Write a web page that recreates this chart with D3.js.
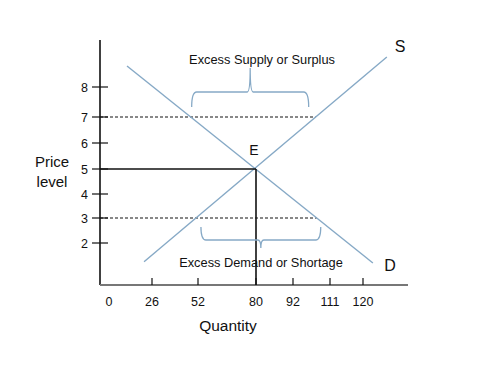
<!DOCTYPE html>
<html>
<head>
<meta charset="utf-8">
<script src="https://cdn.jsdelivr.net/npm/d3@7"></script>
<style>
  html, body { margin: 0; padding: 0; background: #fff; }
  svg { display: block; font-family: "Liberation Sans", Arial, sans-serif; }
</style>
</head>
<body>
<svg id="chart" width="487" height="374"></svg>
<script>
// ---- data ----
const priceTicks = [2, 3, 4, 5, 6, 7, 8];
const quantityTicks = [0, 26, 52, 80, 92, 111, 120];
const supplyLine = [{ q: 21.2, p: 1.25 }, { q: 126.5, p: 9.0 }];
const demandLine = [{ q: 10.9, p: 8.7 }, { q: 122.7, p: 1.2 }];
const equilibrium = { q: 80, p: 5, label: "E" };
const surplusPrice = 7;
const shortagePrice = 3;
const labels = {
  supply: "S", demand: "D",
  surplus: "Excess Supply or Surplus",
  shortage: "Excess Demand or Shortage",
  yTitle: ["Price", "level"], xTitle: "Quantity"
};

// ---- layout ----
const svg = d3.select("#chart");
const axisX0 = 100, axisY0 = 285, axisTop = 40, axisRight = 408;
const x = d3.scaleLinear().domain(quantityTicks).range([109, 152, 198, 256, 293, 330, 363]);
const y = d3.scaleLinear().domain(priceTicks).range([243, 218, 194, 169, 143, 117, 87]);
const curveColor = "#86a9c6";

// axes
svg.append("line").attr("x1", axisX0).attr("x2", axisX0).attr("y1", axisTop).attr("y2", axisY0)
  .attr("stroke", "#111").attr("stroke-width", 1.6);
svg.append("line").attr("x1", axisX0).attr("x2", axisRight).attr("y1", axisY0).attr("y2", axisY0)
  .attr("stroke", "#777").attr("stroke-width", 2);

// y ticks
const yt = svg.append("g");
priceTicks.forEach(p => {
  yt.append("line").attr("x1", axisX0 - 8).attr("x2", axisX0 + 8)
    .attr("y1", y(p)).attr("y2", y(p)).attr("stroke", "#111").attr("stroke-width", 1.2);
  yt.append("text").attr("x", 88).attr("y", y(p) + 4.5).attr("text-anchor", "end")
    .attr("font-size", 12.5).attr("fill", "#111").text(p);
});

// x ticks
const xt = svg.append("g");
quantityTicks.forEach(q => {
  if (q !== 0) xt.append("line").attr("x1", x(q)).attr("x2", x(q))
    .attr("y1", axisY0 - 7).attr("y2", axisY0).attr("stroke", "#111").attr("stroke-width", 1.2);
  xt.append("text").attr("x", x(q)).attr("y", 306).attr("text-anchor", "middle")
    .attr("font-size", 12.5).attr("fill", "#111").text(q);
});

// axis titles
svg.append("text").attr("x", 52).attr("y", 167).attr("text-anchor", "middle")
  .attr("font-size", 15).attr("fill", "#111").text(labels.yTitle[0]);
svg.append("text").attr("x", 52).attr("y", 187).attr("text-anchor", "middle")
  .attr("font-size", 15).attr("fill", "#111").text(labels.yTitle[1]);
svg.append("text").attr("x", 228).attr("y", 331).attr("text-anchor", "middle")
  .attr("font-size", 15.5).attr("fill", "#111").text(labels.xTitle);

// helpers
const pt = d => [x(d.q), y(d.p)];
function xAtY(line, py) {
  const [a, b] = line.map(pt);
  return a[0] + (py - a[1]) * (b[0] - a[0]) / (b[1] - a[1]);
}

// dashed price lines
const ySur = y(surplusPrice), ySho = y(shortagePrice);
const supAtSur = xAtY(supplyLine, ySur), demAtSur = xAtY(demandLine, ySur);
const supAtSho = xAtY(supplyLine, ySho), demAtSho = xAtY(demandLine, ySho);
svg.append("line").attr("x1", axisX0).attr("x2", supAtSur).attr("y1", ySur).attr("y2", ySur)
  .attr("stroke", "#111").attr("stroke-width", 1).attr("stroke-dasharray", "3,2");
svg.append("line").attr("x1", axisX0).attr("x2", demAtSho).attr("y1", ySho).attr("y2", ySho)
  .attr("stroke", "#111").attr("stroke-width", 1).attr("stroke-dasharray", "3,2");

// supply & demand
const lineGen = d3.line().x(d => x(d.q)).y(d => y(d.p));
svg.append("path").attr("d", lineGen(supplyLine)).attr("fill", "none")
  .attr("stroke", curveColor).attr("stroke-width", 1.4);
svg.append("path").attr("d", lineGen(demandLine)).attr("fill", "none")
  .attr("stroke", curveColor).attr("stroke-width", 1.4);

// equilibrium guide lines
svg.append("line").attr("x1", axisX0).attr("x2", x(equilibrium.q))
  .attr("y1", y(equilibrium.p)).attr("y2", y(equilibrium.p)).attr("stroke", "#111").attr("stroke-width", 1.6);
svg.append("line").attr("x1", x(equilibrium.q)).attr("x2", x(equilibrium.q))
  .attr("y1", y(equilibrium.p)).attr("y2", axisY0).attr("stroke", "#111").attr("stroke-width", 1.6);
svg.append("text").attr("x", x(equilibrium.q) - 2).attr("y", y(equilibrium.p) - 14)
  .attr("text-anchor", "middle").attr("font-size", 14).attr("fill", "#111").text(equilibrium.label);

// braces
function brace(x1, x2, yEnd, yMid, yTip) {
  const cx = (x1 + x2) / 2;
  return `M${x1},${yEnd} Q${x1},${yMid} ${x1 + 5},${yMid} L${cx - 3},${yMid} ` +
    `Q${cx},${yMid} ${cx},${yTip} Q${cx},${yMid} ${cx + 3},${yMid} L${x2 - 5},${yMid} Q${x2},${yMid} ${x2},${yEnd}`;
}
svg.append("path").attr("d", brace(demAtSur + 1, supAtSur - 7, ySur - 10, ySur - 25, ySur - 49))
  .attr("fill", "none").attr("stroke", curveColor).attr("stroke-width", 1.3);
svg.append("path").attr("d", brace(supAtSho + 5, demAtSho + 4, ySho + 9, ySho + 22, ySho + 30))
  .attr("fill", "none").attr("stroke", curveColor).attr("stroke-width", 1.3);

svg.append("text").attr("x", 262).attr("y", 64).attr("text-anchor", "middle")
  .attr("font-size", 12.8).attr("fill", "#111").text(labels.surplus);
svg.append("text").attr("x", 261).attr("y", 267).attr("text-anchor", "middle")
  .attr("font-size", 12.8).attr("fill", "#111").text(labels.shortage);

// curve labels
svg.append("text").attr("x", 400).attr("y", 52).attr("text-anchor", "middle")
  .attr("font-size", 16).attr("fill", "#111").text(labels.supply);
svg.append("text").attr("x", 390).attr("y", 271).attr("text-anchor", "middle")
  .attr("font-size", 16).attr("fill", "#111").text(labels.demand);
</script>
</body>
</html>
